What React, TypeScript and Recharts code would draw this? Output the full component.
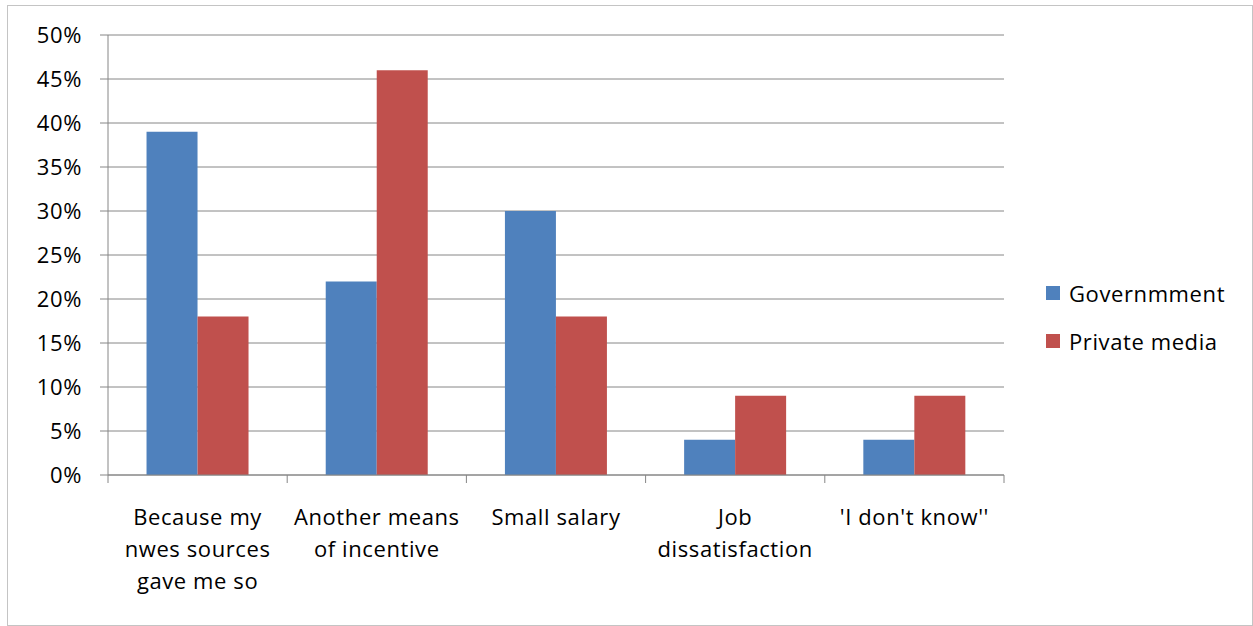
import { FC } from "react";
import { BarChart, Bar, XAxis, YAxis, CartesianGrid, Legend } from "recharts";

const categories = [
  ["Because my", "nwes sources", "gave me so"],
  ["Another means", "of incentive"],
  ["Small salary"],
  ["Job", "dissatisfaction"],
  ["'I don't know''"],
];
const government = [39, 22, 30, 4, 4];
const privateMedia = [18, 46, 18, 9, 9];
const yTicks = [0, 5, 10, 15, 20, 25, 30, 35, 40, 45, 50];
const seriesNames = ["Governmment", "Private media"];

const W = 1253;
const H = 626;
const LEGEND_W = 200;
// right margin 249 in total; the legend box width is reserved by recharts on top of it
const MARGIN = { top: 35, right: 249 - LEGEND_W, left: 0, bottom: 31 };
const Y_AXIS_W = 108;
const X_AXIS_H = 120;
const PLOT_W = W - MARGIN.left - 249 - Y_AXIS_W;
const BAND = PLOT_W / categories.length;

const FONT = "'Open Sans', sans-serif";
const FONT_SIZE = 22;
const SPACING = 0.6;
const GRID = "#868686";
const BLUE = "#4F81BD";
const RED = "#C0504D";

const data = categories.map((lines, i) => ({
  name: lines.join(" "),
  lines,
  gov: government[i],
  priv: privateMedia[i],
}));

const CategoryTick: FC<any> = ({ x, y, index, payload }) => {
  const idx = payload.index ?? index;
  const lines = data[idx]?.lines ?? [String(payload.value)];
  const last = idx === categories.length - 1;
  return (
    <g>
      <line x1={x - BAND / 2} x2={x - BAND / 2} y1={y} y2={y + 8} stroke={GRID} />
      {last && <line x1={x + BAND / 2} x2={x + BAND / 2} y1={y} y2={y + 8} stroke={GRID} />}
      <text
        x={x}
        y={y + 50}
        textAnchor="middle"
        fontFamily={FONT}
        fontSize={FONT_SIZE}
        letterSpacing={SPACING}
        fill="#000"
      >
        {lines.map((l: string, i: number) => (
          <tspan key={i} x={x} dy={i === 0 ? 0 : 32}>
            {l}
          </tspan>
        ))}
      </text>
    </g>
  );
};

const LegendContent: FC = () => (
  <div style={{ fontFamily: FONT, fontSize: FONT_SIZE, letterSpacing: SPACING, color: "#000" }}>
    {seriesNames.map((n, i) => (
      <div key={n} style={{ display: "flex", alignItems: "center", height: 48 }}>
        <span
          style={{
            display: "inline-block",
            width: 14,
            height: 14,
            background: i === 0 ? BLUE : RED,
            marginRight: 9,
          }}
        />
        {n}
      </div>
    ))}
  </div>
);

const App: FC = () => {
  return (
    <div style={{ position: "relative", width: W, height: H }}>
      <style>{`body{margin:0}`}</style>
      <div
        style={{
          position: "absolute",
          left: 7,
          top: 5,
          width: 1244,
          height: 619,
          border: "1px solid #c4c4c4",
        }}
      />
      <div style={{ position: "absolute", left: 0, top: 0 }}>
        <BarChart
          width={W}
          height={H}
          data={data}
          margin={MARGIN}
          barCategoryGap="21.5%"
          barGap={0}
        >
          <CartesianGrid horizontal={true} vertical={false} stroke={GRID} strokeDasharray="" />
          <XAxis
            dataKey="name"
            height={X_AXIS_H}
            axisLine={{ stroke: GRID }}
            tickLine={false}
            tickSize={0}
            tickMargin={0}
            interval={0}
            tick={<CategoryTick />}
          />
          <YAxis
            width={Y_AXIS_W}
            domain={[0, 50]}
            ticks={yTicks}
            interval={0}
            tickFormatter={(v) => `${v}%`}
            axisLine={{ stroke: GRID }}
            tickLine={{ stroke: GRID }}
            tickSize={8}
            tickMargin={18}
            tick={{ fill: "#000", fontFamily: FONT, fontSize: FONT_SIZE, letterSpacing: SPACING }}
          />
          <Legend
            layout="vertical"
            verticalAlign="top"
            align="right"
            wrapperStyle={{ left: 1046, top: 269, width: LEGEND_W }}
            content={<LegendContent />}
          />
          <Bar dataKey="gov" name={seriesNames[0]} fill={BLUE} isAnimationActive={false} />
          <Bar dataKey="priv" name={seriesNames[1]} fill={RED} isAnimationActive={false} />
        </BarChart>
      </div>
    </div>
  );
};

export default App;
